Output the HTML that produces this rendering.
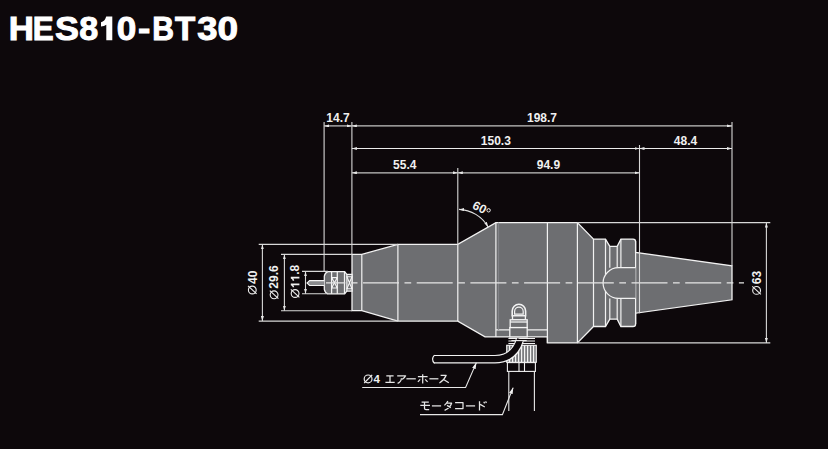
<!DOCTYPE html>
<html><head><meta charset="utf-8">
<style>
html,body{margin:0;padding:0;background:#0d080b;width:828px;height:449px;overflow:hidden}
svg{position:absolute;left:0;top:0}
</style></head><body>
<svg width="828" height="449" viewBox="0 0 828 449">
<defs>
<marker id="ar" viewBox="0 0 10 6" refX="10" refY="3" markerWidth="5" markerHeight="3" orient="auto-start-reverse" markerUnits="userSpaceOnUse">
<path d="M0,0 L10,3 L0,6 z" fill="#e8e8e8"/>
</marker>
<marker id="ar2" viewBox="0 0 10 6" refX="10" refY="3" markerWidth="6.5" markerHeight="3.8" orient="auto-start-reverse" markerUnits="userSpaceOnUse">
<path d="M0,0 L10,3 L0,6 z" fill="#f0f0f0"/>
</marker>
</defs>
<rect width="828" height="449" fill="#0d080b"/>
<!-- title -->
<g font-family="Liberation Sans" font-weight="bold" font-size="34" fill="#fff" stroke="#fff" stroke-width="1">
<text transform="translate(8.82,39.8) scale(1.026,1)">H</text>
<text transform="translate(32.75,39.8) scale(0.923,1)">E</text>
<text transform="translate(55.02,39.8) scale(1.055,1)">S</text>
<text transform="translate(79.17,39.8) scale(1.001,1)">8</text>
<path d="M106.2,16.6 H112.3 V40.2 H106.3 V24.8 Q104.3,26.4 101,26.6 V22.2 Q104.8,21.6 106.2,16.6 Z" stroke="none"/>
<text transform="translate(116.66,39.8) scale(1.033,1)">0</text>
<text transform="translate(137.90,39.8) scale(1.089,1)">-</text>
<text transform="translate(152.23,39.8) scale(0.887,1)">B</text>
<text transform="translate(174.98,39.8) scale(0.974,1)">T</text>
<text transform="translate(197.21,39.8) scale(1.071,1)">3</text>
<text transform="translate(217.39,39.8) scale(1.088,1)">0</text>
</g>

<!-- ===== body fills ===== -->
<g fill="#6d6e71" stroke="#f2f2f2" stroke-width="1.3" stroke-linejoin="miter">
  <!-- section1 + taper + cylinder + 60 taper + big body + chamfer -->
  <path d="M352,254.4 H361.8 L397.9,244.4 H457.8 L495.9,222.6 H577.4 L593.5,239.1 H605.5 L609.8,246.4 H617.2 L620.9,239.1 H633 Q635.6,239.1 635.6,241.7 V252.4 L732,265.8 V299.8 L635.6,313.2 V323.9 Q635.6,326.5 633,326.5 H620.9 L617.2,319.2 H609.8 L605.5,326.5 H593.5 L577.4,342.9 H547.4 V336.9 H485 L457.8,321.1 H397.9 L361.8,310.7 H352 Z"/>
</g>
<!-- internal lines -->
<g stroke="#f2f2f2" stroke-width="1.2" fill="none">
  <path d="M361.8,254.4 V310.7 M397.9,244.4 V321.1 M457.8,244.4 V321.1 M495.9,222.6 V336.9 M547.4,222.6 V342.9 M577.4,222.6 V342.9"/>
  <path d="M593.5,239.1 V326.5 M605.5,239.1 V326.5 M609.8,246.4 V267.7 M617.2,246.4 V267.7 M609.8,298.4 V319.2 M617.2,298.4 V319.2 M620.9,239.1 V267.7 M620.9,298.4 V326.5 M635.6,241 V324"/>
  <path d="M495.9,329.9 H547.4"/>
  <path d="M498.6,222.6 V329.9" stroke="#85868a" stroke-width="1"/>
  <path d="M635.6,267.7 H618.4 A15.35,15.35 0 0 0 618.4,298.4 H635.6" fill="#6d6e71"/>
</g>

<!-- ===== chuck ===== -->
<g stroke="#f4f4f4" stroke-width="1.25">
  <path d="M324.3,276.2 Q325,272.6 327.9,271.7 H344.7 L346.8,274.3 H352 V291.2 H346.8 L344.7,293.8 H327.9 Q325,292.9 324.3,289.3 Z" fill="#6d6e71"/>
  <path d="M331.6,271.7 V293.8 M337.3,271.7 V293.8 M344.5,271.7 V293.8 M346.9,274.3 V291.2" fill="none"/>
  <path d="M331.6,277.6 H337.3 M331.6,288 H337.3 M331.6,277.6 L337.3,288 M337.3,277.6 L331.6,288" fill="none" stroke-width="1.1"/>
  <path d="M346.9,276.8 H352 L349.45,282.8 Z M346.9,288.8 H352 L349.45,282.8 Z" fill="none" stroke-width="1.1"/>
  <!-- shank -->
  <path d="M324.3,280.6 H309.6 L307,283 L309.6,285.5 H324.3" fill="#8a8b8e" stroke-width="1.1"/>
</g>

<!-- ===== centerline ===== -->
<path d="M326,282.8 H744" stroke="#e6e6e6" stroke-width="1.3" stroke-dasharray="36 5.5 6.7 5.5" stroke-dashoffset="16.7" fill="none"/>

<!-- ===== dimension extension lines ===== -->
<g stroke="#d8d8d8" stroke-width="1.1" fill="none">
  <path d="M324.1,122 V271.4 M351.9,122 V254.4 M457.8,168 V244.4 M639.5,145 V313.2 M732,122 V265.8"/>
  <path d="M258.7,244.4 H397.9 M258.7,321.1 H397.9 M281,254.4 H352 M281,310.7 H352 M302,271.4 H328 M302,293.8 H328"/>
  <path d="M577.4,222.6 H770.3 M577.4,342.9 H770.3"/>
</g>
<!-- dimension lines with arrows -->
<g stroke="#c4c4c4" stroke-width="1.25" fill="none" marker-start="url(#ar)" marker-end="url(#ar)">
  <path d="M324.1,125.9 H351.9"/>
  <path d="M351.9,125.9 H732"/>
  <path d="M351.9,172.8 H457.8"/>
  <path d="M457.8,172.8 H639.5"/>
</g>
<g stroke="#ececec" stroke-width="1.05" fill="none" marker-start="url(#ar)" marker-end="url(#ar)">
  <path d="M351.9,148.5 H639.5"/>
  <path d="M639.5,148.5 H732"/>
</g>
<g stroke="#d8d8d8" stroke-width="1.1" fill="none" marker-start="url(#ar)" marker-end="url(#ar)">
  <path d="M262.4,244.4 V321.1"/>
  <path d="M284.4,254.4 V310.7"/>
  <path d="M305.5,271.4 V293.8"/>
  <path d="M766.4,222.6 V342.9"/>
</g>

<!-- labels -->
<g font-family="Liberation Sans" font-weight="bold" font-size="12" fill="#f0f0f0" text-anchor="middle">
  <text x="338" y="122">14.7</text>
  <text x="542" y="122">198.7</text>
  <text x="495.8" y="145.2">150.3</text>
  <text x="685.5" y="145">48.4</text>
  <text x="404.8" y="169.3">55.4</text>
  <text x="548.4" y="169.4">94.9</text>
</g>

<!-- rotated diameter labels -->
<g font-family="Liberation Sans" font-weight="bold" font-size="12" fill="#f0f0f0">
  <g transform="translate(256.6,282.3) rotate(-90)">
    <circle cx="-7.7" cy="-4.3" r="3.9" fill="none" stroke="#f0f0f0" stroke-width="1.1"/>
    <path d="M-11.6,0 L-3.6,-8.6" stroke="#f0f0f0" stroke-width="1.1"/>
    <text x="-1.6" y="0">40</text>
  </g>
  <g transform="translate(278.4,281.9) rotate(-90)">
    <circle cx="-12.9" cy="-4.3" r="3.9" fill="none" stroke="#f0f0f0" stroke-width="1.1"/>
    <path d="M-16.8,0 L-8.8,-8.6" stroke="#f0f0f0" stroke-width="1.1"/>
    <text x="-6.8" y="0">29.6</text>
  </g>
  <g transform="translate(299.4,281.1) rotate(-90)">
    <circle cx="-12.4" cy="-4.3" r="3.9" fill="none" stroke="#f0f0f0" stroke-width="1.1"/>
    <path d="M-16.3,0 L-8.3,-8.6" stroke="#f0f0f0" stroke-width="1.1"/>
    <path d="M-4.10,-8.6 H-2.30 V0 H-4.10 V-6.1 Q-4.90,-5.3 -6.20,-5.2 V-6.7 Q-4.50,-6.9 -4.10,-8.6 Z M2.57,-8.6 H4.37 V0 H2.57 V-6.1 Q1.77,-5.3 0.47,-5.2 V-6.7 Q2.17,-6.9 2.57,-8.6 Z" stroke="none"/><text x="6.34" y="0">.8</text>
  </g>
  <g transform="translate(760.9,282.5) rotate(-90)">
    <circle cx="-7.9" cy="-4.3" r="3.9" fill="none" stroke="#f0f0f0" stroke-width="1.1"/>
    <path d="M-11.8,0 L-3.8,-8.6" stroke="#f0f0f0" stroke-width="1.1"/>
    <text x="-1.8" y="0">63</text>
  </g>
</g>

<!-- 60 degree arc -->
<path d="M459,209.4 A35,35 0 0 1 488.1,226.9" fill="none" stroke="#e0e0e0" stroke-width="1.1" marker-start="url(#ar)" marker-end="url(#ar)"/>
<text x="0" y="0" transform="translate(471.6,207.9) rotate(28)" font-family="Liberation Sans" font-weight="bold" font-size="12.3" fill="#f0f0f0">60</text>
<circle cx="488.6" cy="210.3" r="1.7" fill="none" stroke="#f0f0f0" stroke-width="1"/>

<!-- ===== fitting ===== -->
<g stroke="#f4f4f4" stroke-width="1.3" fill="#6d6e71">
  <path d="M512.2,315.8 V311 A6.7,6.7 0 0 1 525.6,311 V315.8 Z" stroke-width="1.6"/>
  <path d="M514.6,314.2 V311.4 A4.3,4.3 0 0 1 523.2,311.4 V314.2 Z" fill="#6d6e71" stroke-width="1.2"/>
  <rect x="512.5" y="315.8" width="12.9" height="4"/>
  <rect x="510.2" y="319.8" width="17" height="7.8"/>
  <path d="M510.2,322 H527.2" fill="none"/>
  <rect x="509.8" y="327.6" width="17.4" height="9.3"/>
</g>
<!-- threads -->
<g stroke="#f2f2f2" stroke-width="1" fill="none">
  <path d="M508.4,338.5 H535 M508.4,341 H535 M508.4,343.5 H535"/>
</g>
<!-- knurled nut -->
<rect x="506.7" y="345.3" width="29.6" height="17" fill="#7c7d80" stroke="#f2f2f2" stroke-width="1.1"/>
<g stroke="#f4f4f4" stroke-width="1.2">
  <path d="M509.6,345.3 V362 M512.6,345.3 V362 M515.6,345.3 V362 M518.6,345.3 V362 M521.6,345.3 V362 M524.6,345.3 V362 M527.6,345.3 V362 M530.6,345.3 V362 M533.6,345.3 V362"/>
</g>
<!-- hex nut -->
<g stroke="#f2f2f2" stroke-width="1.1" fill="#0d080b">
  <rect x="507.4" y="362.6" width="28" height="8.8"/>
  <path d="M519,362.6 V371.4 M524.5,362.6 V371.4" fill="none"/>
</g>
<!-- motor cord -->
<path d="M508.8,371.4 V411 M534.4,371.4 V411" stroke="#e8e8e8" stroke-width="1.1" fill="none"/>
<!-- hose -->
<path d="M434,359.2 H495 Q514,359.2 519.8,340.2" fill="none" stroke="#f2f2f2" stroke-width="8.4"/>
<path d="M434,359.2 H495 Q514,359.2 520.2,339.2" fill="none" stroke="#0d080b" stroke-width="6.2"/>
<path d="M511.4,340.6 H526.7" stroke="#f2f2f2" stroke-width="1.1"/>
<path d="M434.5,355.1 Q430.6,359.2 434.5,363.3" fill="none" stroke="#f2f2f2" stroke-width="1.2"/>

<!-- leaders -->
<g stroke="#e8e8e8" stroke-width="1.1" fill="none">
  <path d="M476.4,362.6 L465.6,387.5 H362.2" marker-start="url(#ar2)"/>
  <path d="M513.2,387.6 L502.4,414.6 H420" marker-start="url(#ar2)"/>
</g>

<!-- label: Ø4 エアーホース -->
<g stroke="#ececec" stroke-width="1.2" fill="none" stroke-linecap="butt">
  <circle cx="368.1" cy="378.9" r="3.9"/>
  <path d="M364.2,383 L372.2,374.8"/>
</g>
<text x="373.6" y="382.9" font-family="Liberation Sans" font-weight="bold" font-size="11.5" fill="#f0f0f0">4</text>
<g stroke="#e6e6e6" stroke-width="1.25" fill="none" stroke-linecap="butt" stroke-linejoin="round">
  <!-- エ -->
  <path d="M386.3,375.8 H393.6 M390,375.8 V382.4 M385.4,382.4 H394.7"/>
  <!-- ア -->
  <path d="M397.2,375.8 H405.6 Q404.6,378 402.2,379.4 M401.4,378.2 Q401.4,381.6 397.6,383.4"/>
  <!-- ー -->
  <path d="M406.4,378.8 H415.8"/>
  <!-- ホ -->
  <path d="M417.9,376.6 H427.6 M422.7,374.2 V383.6 M420.2,379.4 L417.9,381.9 M425.2,379.4 L427.6,381.9"/>
  <!-- ー -->
  <path d="M429.4,378.8 H438.4"/>
  <!-- ス -->
  <path d="M440.6,375.3 H446.2 Q444,380.5 439.4,383 M443.6,379.4 L448.8,382.8"/>
</g>
<!-- label: モータコード -->
<g stroke="#e6e6e6" stroke-width="1.25" fill="none" stroke-linecap="butt" stroke-linejoin="round">
  <!-- モ -->
  <path d="M421.6,402 H428.8 M420.3,405.4 H430 M424.5,402 V408.6 Q424.5,409.6 426,409.6 H429.2"/>
  <!-- ー -->
  <path d="M431.9,405.9 H441.1"/>
  <!-- タ -->
  <path d="M447.9,401 Q446.6,403.4 444.4,405.4 M446.4,403.2 H451.6 Q450,408 444.6,410.3 M447,405.4 L450.8,407.6"/>
  <!-- コ -->
  <path d="M455.1,402.5 H463 V408.6 H455.1"/>
  <!-- ー -->
  <path d="M465.9,405.9 H475.1"/>
  <!-- ド -->
  <path d="M479.5,401.3 V410.5 M480.2,404.4 L484.8,407 M483.8,401.8 L484.6,403.4 M485.6,401.4 L486.4,403"/>
</g>
</svg>
</body></html>
